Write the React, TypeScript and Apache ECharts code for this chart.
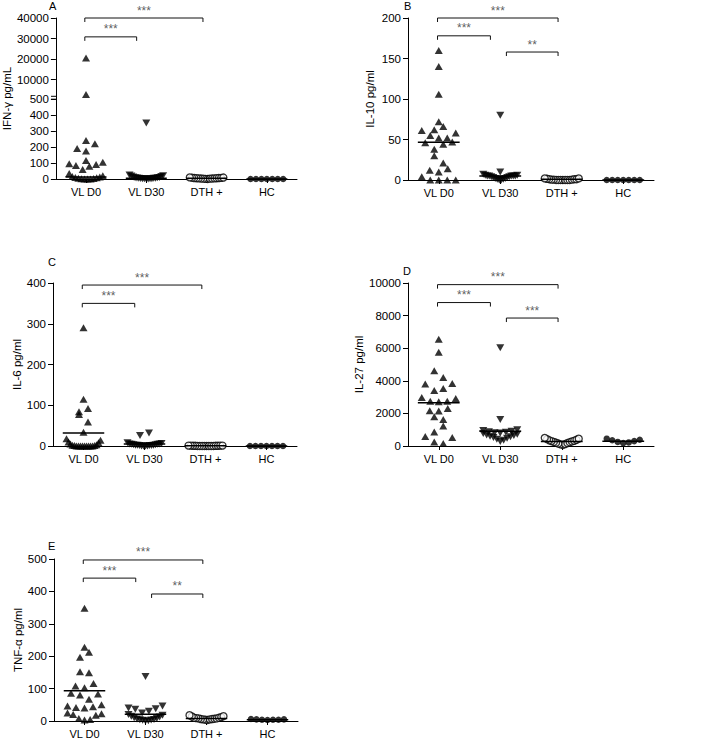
import React, { useEffect, useRef } from "react";
import * as echarts from "echarts";

const groupNames = ["VL D0", "VL D30", "DTH +", "HC"];

// A: IFN-γ
const ifnVLD0 = [20500, 2700, 240, 220, 190, 175, 115, 105, 95, 90, 85, 80, 60, 35, 20, 15, 12, 10, 8, 5, 3, 2, 0, 0, 0];
const ifnVLD30 = [350, 25, 20, 18, 15, 12, 10, 8, 8, 6, 5, 5, 4, 3, 2, 2, 1, 1, 0, 0];
const ifnDTH = [10, 9, 8, 7, 6, 6, 5, 5, 4, 4, 3, 3, 2, 2, 1, 0];
const ifnHC = [0, 0, 0, 0, 0, 0, 0];
const ifnLines = [12, 5, 4, 0];
const ifnTicks = [0, 100, 200, 300, 400, 500, 10000, 20000, 30000, 40000];
const ifnBrackets: [number, number, number, string][] = [[0, 2, 40000, "***"], [0, 1, 30800, "***"]];

// B: IL-10
const il10VLD0 = [160, 140, 106, 72, 66, 62, 61, 58, 55, 52, 52, 47, 46, 44, 38, 30, 21, 14, 12, 10, 4, 0, 0, 0, 0];
const il10VLD30 = [80, 10, 7, 6, 6, 5, 5, 5, 5, 5, 4, 4, 3, 3, 2, 2, 1, 1, 0, 0];
const il10DTH = [2, 2, 1.5, 1, 1, 1, 0.5, 0.5, 0.5, 0, 0, 0, 0, 0, 0, 0];
const il10HC = [0, 0, 0, 0, 0, 0, 0];
const il10Lines = [46.5, 5, 1, 0];
const il10Ticks = [0, 50, 100, 150, 200];
const il10Brackets: [number, number, number, string][] = [[0, 2, 200, "***"], [0, 1, 178, "***"], [1, 2, 158, "**"]];

// C: IL-6
const il6VLD0 = [290, 115, 92, 84, 77, 59, 34, 18, 14, 10, 8, 5, 3, 2, 1, 1, 0, 0, 0, 0, 0, 0, 0, 0, 0];
const il6VLD30 = [32, 26, 8, 6, 5, 5, 4, 4, 3, 3, 2, 2, 2, 1, 1, 1, 0, 0, 0, 0];
const il6DTH = [1, 1, 1, 1, 0.5, 0.5, 0.5, 0.5, 0, 0, 0, 0, 0, 0, 0, 0];
const il6HC = [0, 0, 0, 0, 0, 0, 0];
const il6Lines = [32, 5, 0.5, 0];
const il6Ticks = [0, 100, 200, 300, 400];
const il6Brackets: [number, number, number, string][] = [[0, 2, 395, "***"], [0, 1, 350, "***"]];

// D: IL-27
const il27VLD0 = [6550, 5750, 4620, 4210, 3840, 3800, 3530, 3410, 2980, 2920, 2750, 2750, 2710, 2300, 2160, 2140, 1790, 1625, 1230, 860, 580, 520, 250, 150];
const il27VLD30 = [6030, 1625, 1000, 950, 900, 880, 850, 820, 800, 760, 720, 680, 640, 600, 560, 520, 480, 420, 360, 280];
const il27DTH = [500, 450, 420, 380, 350, 320, 300, 280, 250, 230, 200, 180, 150, 120, 100, 60];
const il27HC = [450, 380, 350, 300, 250, 220, 180];
const il27Lines = [2650, 905, 280, 290];
const il27Ticks = [0, 2000, 4000, 6000, 8000, 10000];
const il27Brackets: [number, number, number, string][] = [[0, 2, 9900, "***"], [0, 1, 8800, "***"], [1, 2, 7850, "***"]];

// E: TNF-α
const tnfVLD0 = [348, 228, 212, 197, 152, 149, 116, 108, 103, 86, 83, 80, 67, 50, 46, 44, 42, 40, 25, 22, 20, 18, 8, 5, 3];
const tnfVLD30 = [137, 46, 40, 38, 36, 30, 25, 20, 18, 15, 12, 10, 8, 6, 5, 4, 3, 2, 1, 0];
const tnfDTH = [18, 15, 14, 12, 10, 10, 9, 8, 8, 7, 6, 6, 5, 5, 4, 3];
const tnfHC = [6, 5, 4, 4, 3, 4, 5];
const tnfLines = [93, 21, 8, 4];
const tnfTicks = [0, 100, 200, 300, 400, 500];
const tnfBrackets: [number, number, number, string][] = [[0, 2, 497, "***"], [0, 1, 441, "***"], [1, 2, 392, "**"]];

const FONT = "'Liberation Sans', Arial, Helvetica, sans-serif";

const layouts = [
  { left: 53, top: 18, width: 244, height: 161 },
  { left: 408, top: 18, width: 246, height: 162 },
  { left: 53, top: 283, width: 244, height: 163 },
  { left: 408, top: 283, width: 246, height: 163 },
  { left: 54, top: 559, width: 244, height: 163 },
];
const letterPos = [[49, 6], [404, 6], [48, 262], [403, 270.5], [48, 546]];
const nameGaps = [40, 32, 30, 30, 30];

// broken axis for panel A: 0-500 lower segment, 500-40000 compressed upper segment
const A_LOW = 500;
const A_TOP = 40000;
const A_T = (500 * 161) / 80;
const ifnT = (v: number) => (v <= A_LOW ? v : A_LOW + ((v - A_LOW) * (A_T - A_LOW)) / (A_TOP - A_LOW));
const ident = (v: number) => v;

const panels = [
  { letter: "A", title: "IFN-\u03b3 pg/mL", groups: [ifnVLD0, ifnVLD30, ifnDTH, ifnHC], lines: ifnLines, ticks: ifnTicks, brackets: ifnBrackets, tf: ifnT },
  { letter: "B", title: "IL-10 pg/ml", groups: [il10VLD0, il10VLD30, il10DTH, il10HC], lines: il10Lines, ticks: il10Ticks, brackets: il10Brackets, tf: ident },
  { letter: "C", title: "IL-6 pg/ml", groups: [il6VLD0, il6VLD30, il6DTH, il6HC], lines: il6Lines, ticks: il6Ticks, brackets: il6Brackets, tf: ident },
  { letter: "D", title: "IL-27 pg/ml", groups: [il27VLD0, il27VLD30, il27DTH, il27HC], lines: il27Lines, ticks: il27Ticks, brackets: il27Brackets, tf: ident },
  { letter: "E", title: "TNF-\u03b1 pg/ml", groups: [tnfVLD0, tnfVLD30, tnfDTH, tnfHC], lines: tnfLines, ticks: tnfTicks, brackets: tnfBrackets, tf: ident },
];

const ROW_H = 8;
const MAXW = 34;

// scatter-dot layout: points grouped into rows by pixel height, each row spread
// horizontally with the lowest values in the centre (Prism-like V shape)
function swarm(vals: number[], tf: (v: number) => number, pxU: number, band: number, gi: number, spacing: number) {
  const pts = vals.map(tf).sort((a, b) => a - b);
  const rows: { start: number; items: number[] }[] = [];
  let cur: { start: number; items: number[] } | null = null;
  for (const t of pts) {
    if (!cur || (t - cur.start) * pxU > ROW_H) {
      cur = { start: t, items: [] };
      rows.push(cur);
    }
    cur.items.push(t);
  }
  const out: number[][] = [];
  rows.forEach((r, ri) => {
    const n = r.items.length;
    const s = n > 1 ? Math.min(spacing, MAXW / (n - 1)) : 0;
    const slots: number[] = [];
    for (let k = 0; k < n; k++) slots.push((k - (n - 1) / 2) * s);
    const sign = ri % 2 === 0 ? 1 : -1;
    slots.sort((a, b) => Math.abs(a) - Math.abs(b) || sign * (b - a));
    r.items.forEach((t, k) => out.push([gi + 0.5 + slots[k] / band, t]));
  });
  return out;
}

const symbolDefs = [
  { symbol: "triangle", symbolSize: [8, 7], symbolRotate: 0, itemStyle: { color: "#000" }, spacing: 9 },
  { symbol: "triangle", symbolSize: [8, 7], symbolRotate: 180, itemStyle: { color: "#000" }, spacing: 9 },
  { symbol: "circle", symbolSize: 7, symbolRotate: 0, itemStyle: { color: "#fff", borderColor: "#000", borderWidth: 1.3 }, spacing: 5.5 },
  { symbol: "circle", symbolSize: 6.5, symbolRotate: 0, itemStyle: { color: "#000" }, spacing: 5.5 },
];

export default function App() {
  const ref = useRef<HTMLDivElement>(null);
  useEffect(() => {
    if (!ref.current) return;
    const chart = echarts.init(ref.current, null, { renderer: "svg" });
    const grid: any[] = [];
    const xAxis: any[] = [];
    const yAxis: any[] = [];
    const series: any[] = [];
    const graphic: any[] = [];
    const cats = [0.5, 1.5, 2.5, 3.5];

    panels.forEach((p, i) => {
      const L = layouts[i];
      grid.push({ left: L.left, top: L.top, width: L.width, height: L.height, containLabel: false });
      const tMax = p.tf(p.ticks[p.ticks.length - 1]);
      const pxU = L.height / tMax;
      const band = L.width / 4;
      const tickT = p.ticks.map(p.tf);
      xAxis.push({
        type: "value",
        gridIndex: i,
        min: 0,
        max: 4,
        axisLine: { show: true, onZero: false, lineStyle: { color: "#000", width: 1 } },
        axisTick: { show: true, customValues: cats, length: 4, lineStyle: { color: "#000" } },
        axisLabel: {
          customValues: cats,
          formatter: (v: number) => groupNames[Math.floor(v)] || "",
          color: "#000",
          fontSize: 11,
          fontFamily: FONT,
          margin: 7,
        },
        splitLine: { show: false },
      });
      yAxis.push({
        type: "value",
        gridIndex: i,
        min: 0,
        max: tMax,
        name: p.title,
        nameLocation: "middle",
        nameGap: nameGaps[i],
        nameTextStyle: { color: "#000", fontSize: 11.5, fontFamily: FONT },
        axisLine: { show: true, onZero: false, lineStyle: { color: "#000", width: 1 } },
        axisTick: { show: true, customValues: tickT, length: 5, lineStyle: { color: "#000" } },
        axisLabel: {
          customValues: tickT,
          formatter: (v: number) => {
            const k = tickT.findIndex((t) => Math.abs(t - v) < 1e-6);
            return k >= 0 ? String(p.ticks[k]) : "";
          },
          color: "#000",
          fontSize: 11.5,
          fontFamily: FONT,
          margin: 7,
        },
        splitLine: { show: false },
      });

      p.groups.forEach((vals, g) => {
        const sd = symbolDefs[g];
        series.push({
          type: "scatter",
          xAxisIndex: i,
          yAxisIndex: i,
          data: swarm(vals, p.tf, pxU, band, g, sd.spacing),
          symbol: sd.symbol,
          symbolSize: sd.symbolSize,
          symbolRotate: sd.symbolRotate,
          itemStyle: sd.itemStyle,
          clip: false,
          silent: true,
          z: 2,
        });
      });

      p.lines.forEach((m, g) => {
        const t = p.tf(m);
        series.push({
          type: "line",
          xAxisIndex: i,
          yAxisIndex: i,
          data: [[g + 0.5 - 0.34, t], [g + 0.5 + 0.34, t]],
          symbol: "none",
          lineStyle: { color: "#000", width: 1.5 },
          clip: false,
          silent: true,
          z: 3,
        });
      });

      const drop = 4 / pxU;
      p.brackets.forEach(([from, to, val, txt]) => {
        const y = p.tf(val);
        const l = from + 0.5 + (from > 0 ? 0.1 : -0.02);
        const r = to + 0.5 - (to === 1 ? 0.16 : 0.06);
        series.push({
          type: "line",
          xAxisIndex: i,
          yAxisIndex: i,
          data: [[l, y - drop], [l, y], [r, y], [r, y - drop]],
          symbol: "none",
          lineStyle: { color: "#111", width: 1 },
          clip: false,
          silent: true,
          z: 3,
        });
        series.push({
          type: "scatter",
          xAxisIndex: i,
          yAxisIndex: i,
          data: [[(l + r) / 2, y]],
          symbolSize: 1,
          itemStyle: { color: "rgba(0,0,0,0)" },
          label: { show: true, position: "top", distance: 1, formatter: txt, color: "#333", fontSize: 12, fontFamily: FONT },
          clip: false,
          silent: true,
          z: 4,
        });
      });

      graphic.push({
        type: "text",
        x: letterPos[i][0],
        y: letterPos[i][1],
        style: { text: p.letter, fontSize: 11, fontFamily: FONT, fill: "#000", align: "left", verticalAlign: "middle" },
      });
    });

    // break marks on panel A's y-axis
    const ax = layouts[0].left;
    graphic.push({ type: "rect", shape: { x: ax - 1, y: 96.8, width: 2, height: 1.8 }, style: { fill: "#fff" }, z: 100 });
    graphic.push({ type: "line", shape: { x1: ax - 2, y1: 96.3, x2: ax + 4, y2: 96.3 }, style: { stroke: "#000", lineWidth: 1 }, z: 101 });
    graphic.push({ type: "line", shape: { x1: ax - 2, y1: 99.2, x2: ax + 4, y2: 99.2 }, style: { stroke: "#000", lineWidth: 1 }, z: 101 });

    chart.setOption({
      animation: false,
      backgroundColor: "#fff",
      grid,
      xAxis,
      yAxis,
      series,
      graphic,
    });
    return () => chart.dispose();
  }, []);
  return <div ref={ref} style={{ position: "absolute", left: 0, top: 0, width: 704, height: 739 }} />;
}
